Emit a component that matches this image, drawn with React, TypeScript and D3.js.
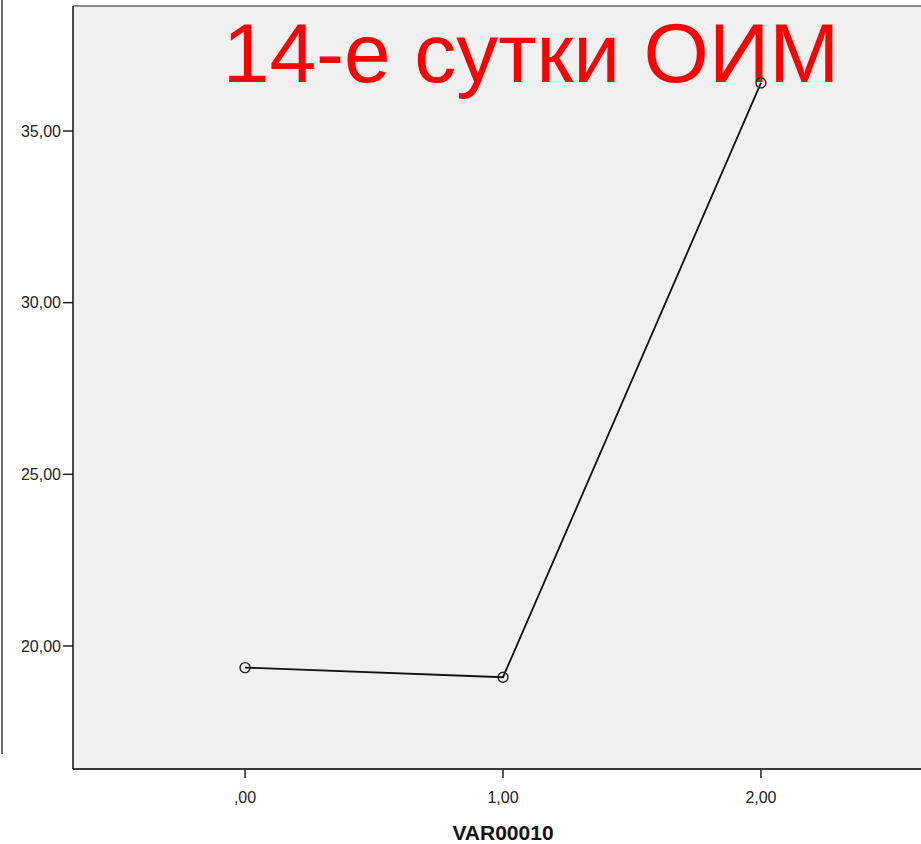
import React from "react";
import * as d3 from "d3";

// Group codes on the x axis and the mean value for each group
const categories: number[] = [0, 1, 2];
const values: number[] = [19.37, 19.09, 36.4];
const yTicks: number[] = [20, 25, 30, 35];
const xTickLabels: string[] = [",00", "1,00", "2,00"];
const yTickLabels: string[] = ["20,00", "25,00", "30,00", "35,00"];
const title = "14-е сутки ОИМ";
const xTitle = "VAR00010";

const W = 921;
const H = 844;
const plot = { left: 73, top: 6, right: 933, bottom: 769 };

export default function App() {
  const x = d3.scaleLinear().domain([-0.667, 2.667]).range([plot.left, plot.right]);
  const y = d3.scaleLinear().domain([16.417, 38.64]).range([plot.bottom, plot.top]);

  const line = d3
    .line<number>()
    .x((_, i) => x(categories[i]))
    .y((d) => y(d));

  const font = "'Liberation Sans', Arial, sans-serif";

  return (
    <svg
      width={W}
      height={H}
      style={{ position: "absolute", left: 0, top: 0, background: "#fff" }}
      fontFamily={font}
    >
      {/* neighbouring panel edge */}
      <line x1={2} x2={2} y1={0} y2={754} stroke="#6e6e6e" strokeWidth={2} />

      {/* plot background and frame */}
      <rect
        x={plot.left}
        y={plot.top}
        width={plot.right - plot.left}
        height={plot.bottom - plot.top}
        fill="#f0f0f0"
      />
      <line x1={plot.left} x2={plot.right} y1={plot.top} y2={plot.top} stroke="#8a8a8a" strokeWidth={2} />
      <line x1={plot.left} x2={plot.left} y1={plot.top} y2={plot.bottom} stroke="#4a4a4a" strokeWidth={2} />
      <line x1={plot.left} x2={plot.right} y1={plot.bottom} y2={plot.bottom} stroke="#3a3a3a" strokeWidth={2} />

      {/* y axis ticks */}
      {yTicks.map((t, i) => (
        <g key={t}>
          <line x1={plot.left - 10} x2={plot.left} y1={y(t)} y2={y(t)} stroke="#222" strokeWidth={1.5} />
          <text x={plot.left - 12} y={y(t)} dy="0.35em" textAnchor="end" fontSize={16} fill="#222">
            {yTickLabels[i]}
          </text>
        </g>
      ))}

      {/* x axis ticks */}
      {categories.map((c, i) => (
        <g key={c}>
          <line x1={x(c)} x2={x(c)} y1={plot.bottom} y2={plot.bottom + 9} stroke="#222" strokeWidth={1.5} />
          <text x={x(c)} y={plot.bottom + 28} dy="0.35em" textAnchor="middle" fontSize={16} fill="#222">
            {xTickLabels[i]}
          </text>
        </g>
      ))}

      <text x={x(1)} y={840} textAnchor="middle" fontSize={21} fontWeight="bold" fill="#111">
        {xTitle}
      </text>

      {/* title */}
      <text x={531} y={82} textAnchor="middle" fontSize={84} fill="#ff0000">
        {title}
      </text>

      {/* mean line with markers */}
      <path d={line(values) ?? ""} fill="none" stroke="#111" strokeWidth={1.8} />
      {values.map((v, i) => (
        <circle
          key={i}
          cx={x(categories[i])}
          cy={y(v)}
          r={5}
          fill="none"
          stroke="#222"
          strokeWidth={1.4}
        />
      ))}
    </svg>
  );
}
